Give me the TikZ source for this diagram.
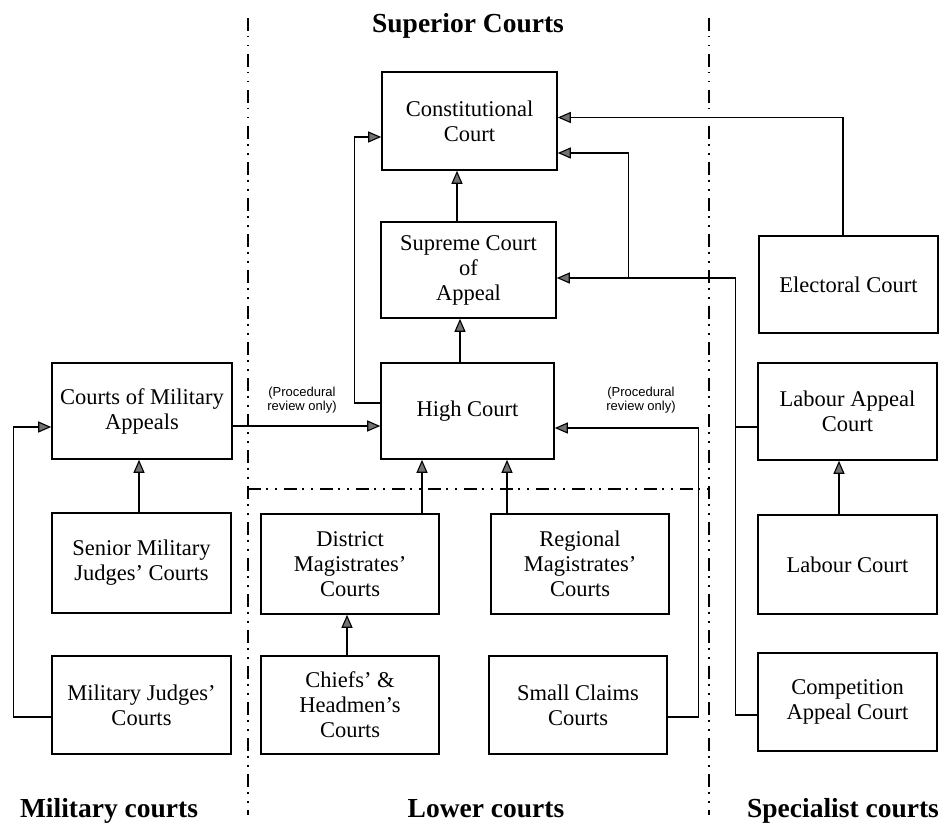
\documentclass[tikz,border=0pt]{standalone}
\usepackage{fontspec}
\setmainfont{Liberation Serif}
\newfontfamily\labfont{Liberation Sans}
\usetikzlibrary{arrows.meta}
\tikzset{
  court/.style={draw, line width=1.6pt, align=center, inner sep=0pt,
    font=\fontsize{22.5}{25}\selectfont},
  arr/.style={line width=1.2pt, -{Triangle[length=13pt,width=11pt,fill=black!55,line width=1.1pt]}},
  conn/.style={line width=1.2pt},
  divider/.style={line width=1.3pt, dash pattern=on 13pt off 5pt on 1.5pt off 7.5pt on 1.5pt off 7.5pt},
  head/.style={font=\fontsize{27.5}{30}\selectfont\bfseries, anchor=base},
  note/.style={align=center, font=\labfont\fontsize{13}{14.5}\selectfont}
}
\begin{document}
\begin{tikzpicture}[x=1pt,y=-1pt]
\useasboundingbox (0,0) rectangle (947,824);
% dividers
\draw[divider] (248,18) -- (248,815);
\draw[divider] (709,18) -- (709,815);
\draw[divider] (248,489) -- (710,489);
% headings
\node[head] (hsup) at (468,33) {Superior Courts};
\node[head] (hmil) at (109,817) {Military courts};
\node[head] (hlow) at (486,817) {Lower courts};
\node[head] (hspe) at (843,817) {Specialist courts};
% courts
\node[court, minimum width=175, minimum height=98] (const) at (469.5,121) {Constitutional\\Court};
\node[court, minimum width=175, minimum height=96] (supreme) at (468.5,270) {Supreme Court\\of\\Appeal};
\node[court, minimum width=173, minimum height=96] (high) at (467.5,411) {High Court};
\node[court, minimum width=180, minimum height=96] (cma) at (142,411) {Courts of Military\\Appeals};
\node[court, minimum width=179, minimum height=100] (smj) at (141.5,563) {Senior Military\\Judges’ Courts};
\node[court, minimum width=179, minimum height=98] (mj) at (141.5,705) {Military Judges’\\Courts};
\node[court, minimum width=178, minimum height=100] (dist) at (350,564) {District\\Magistrates’\\Courts};
\node[court, minimum width=178, minimum height=98] (chiefs) at (350,705) {Chiefs’ \&\\Headmen’s\\Courts};
\node[court, minimum width=178, minimum height=100] (reg) at (580,564) {Regional\\Magistrates’\\Courts};
\node[court, minimum width=178, minimum height=98] (small) at (578,705) {Small Claims\\Courts};
\node[court, minimum width=179, minimum height=97] (electoral) at (848.5,284.5) {Electoral Court};
\node[court, minimum width=179, minimum height=97] (labapp) at (847.5,411.5) {Labour Appeal\\Court};
\node[court, minimum width=179, minimum height=99] (labour) at (847.5,564.5) {Labour Court};
\node[court, minimum width=179, minimum height=98] (comp) at (847.5,702) {Competition\\Appeal Court};
% notes
\node[note] (n1) at (302,400) {(Procedural\\review only)};
\node[note] (n2) at (641,400) {(Procedural\\review only)};
% connectors
\draw[arr] ([xshift=-11.5]supreme.north) -- ([xshift=-11.5]supreme.north |- const.south);
\draw[arr] ([xshift=-7.5]high.north) -- ([xshift=-7.5]high.north |- supreme.south);
\draw[arr] ([yshift=8]high.west) -- ++(-26,0) |- ([yshift=-16]const.west);
\draw[arr] ([xshift=-5.5]electoral.north) |- ([yshift=3.5]const.east);
\coordinate (j1) at ([xshift=-22,yshift=-15.5]labapp.west);
\coordinate (br) at ([xshift=72,yshift=-8]supreme.east);
\draw[conn] ([yshift=-15.5]labapp.west) -- (j1);
\draw[arr] ([yshift=-13]comp.west) -| (j1) |- ([yshift=-8]supreme.east);
\draw[arr] (br) |- ([yshift=-32]const.east);
\draw[arr] ([xshift=-8.5]labour.north) -- ([xshift=-8.5]labour.north |- labapp.south);
\draw[arr] ([yshift=-12]small.east) -- ++(31,0) |- ([yshift=-17]high.east);
\draw[arr] ([xshift=-73]reg.north) -- ([xshift=-73]reg.north |- high.south);
\draw[arr] ([xshift=72]dist.north) -- ([xshift=72]dist.north |- high.south);
\draw[arr] ([xshift=-3]chiefs.north) -- ([xshift=-3]chiefs.north |- dist.south);
\draw[arr] ([xshift=-2.5]smj.north) -- ([xshift=-2.5]smj.north |- cma.south);
\draw[arr] ([yshift=-12]mj.west) -- ++(-38,0) |- ([yshift=-16]cma.west);
\draw[arr] ([yshift=-15]cma.east) -- ([yshift=-15]high.west);
\end{tikzpicture}
\end{document}
